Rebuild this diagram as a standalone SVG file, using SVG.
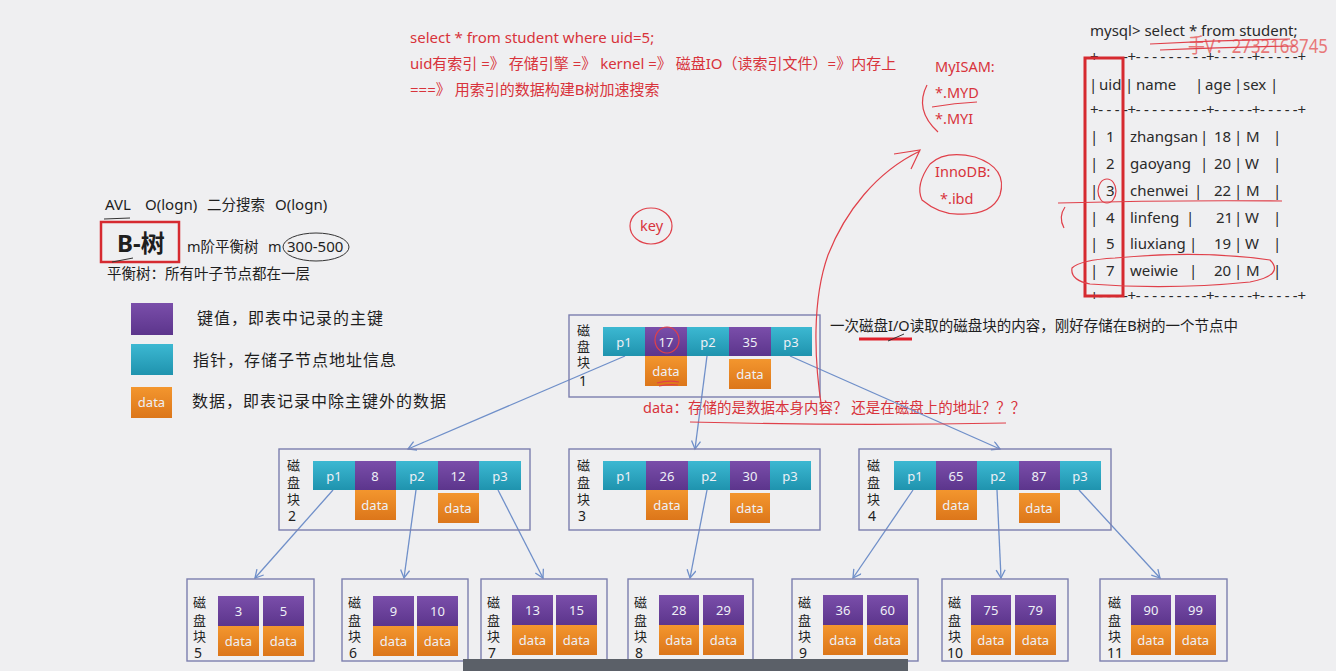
<svg xmlns="http://www.w3.org/2000/svg" width="1336" height="671" viewBox="0 0 1336 671">
<defs>
<linearGradient id="gT" x1="0" y1="0" x2="0" y2="1"><stop offset="0" stop-color="#3cb8d2"/><stop offset="1" stop-color="#1f93ae"/></linearGradient>
<linearGradient id="gP" x1="0" y1="0" x2="0" y2="1"><stop offset="0" stop-color="#7a4eaa"/><stop offset="1" stop-color="#5c358c"/></linearGradient>
<linearGradient id="gO" x1="0" y1="0" x2="0" y2="1"><stop offset="0" stop-color="#f3962e"/><stop offset="1" stop-color="#dc761a"/></linearGradient>
<marker id="arr" markerWidth="12" markerHeight="12" refX="9" refY="5" orient="auto" markerUnits="userSpaceOnUse">
<path d="M1,0.5 L9,5 L1,9.5" fill="none" stroke="#6f8fc9" stroke-width="1.3"/>
</marker>
<style>
text{font-family:"Noto Sans","Noto Sans CJK SC",sans-serif;white-space:pre}
.box{fill:none;stroke:#7c7fae;stroke-width:1.4}
.t{fill:url(#gT)}
.p{fill:url(#gP)}
.o{fill:url(#gO)}
.ct{fill:#eef0f6;font-size:13px;text-anchor:middle}
.lb{fill:#222;font-size:13px}
.blk{fill:#1e1e1e}
.red{fill:#d8333b}
.ink{fill:none;stroke:#e0404a;stroke-width:1.2}
.tb{fill:#2a2a2a;font-size:15px}
.con{stroke:#6f8fc9;stroke-width:1.3;fill:none;marker-end:url(#arr)}
</style>
</defs>
<rect width="1336" height="671" fill="#efeff1"/>

<!-- top red notes -->
<g id="notes" class="red" font-size="15">
<text x="410" y="43">select * from student where uid=5;</text>
<text x="410" y="69">uid有索引 =》 存储引擎 =》 kernel =》 磁盘IO（读索引文件）=》内存上</text>
<text x="410" y="95">===》 用索引的数据构建B树加速搜索</text>
<text x="935" y="72" font-size="14.5">MyISAM:</text>
<text x="935" y="98" font-size="14.5">*.MYD</text>
<text x="935" y="124" font-size="14.5">*.MYI</text>
<text x="935" y="177" font-size="14.5">InnoDB:</text>
<text x="940" y="204" font-size="14.5">*.ibd</text>
<text x="640" y="231" font-size="14.5">key</text>
<text x="643" y="413" font-size="14.5">data：存储的是数据本身内容？ 还是在磁盘上的地址？？？</text>
</g>

<!-- left description -->
<g id="desc" class="blk">
<text x="105" y="210" font-size="15">AVL</text>
<text x="145" y="210" font-size="15">O(logn)</text>
<text x="207" y="210" font-size="14.5">二分搜索</text>
<text x="275" y="210" font-size="15">O(logn)</text>
<text x="117" y="252" font-size="24" font-weight="bold">B-树</text>
<rect x="101" y="222" width="78" height="40" fill="none" stroke="#d62a30" stroke-width="2.5"/>
<text x="187" y="252" font-size="14.5">m阶平衡树</text>
<text x="268" y="252" font-size="14.5">m</text>
<text x="287" y="252" font-size="15">300-500</text>
<text x="107" y="279" font-size="14.5">平衡树：所有叶子节点都在一层</text>
</g>

<!-- legend -->
<g id="legend">
<rect x="131" y="303" width="42" height="32" class="p"/>
<text x="197" y="324" font-size="16" letter-spacing="1" class="blk">键值，即表中记录的主键</text>
<rect x="131" y="344" width="42" height="31" class="t"/>
<text x="193" y="366" font-size="16" letter-spacing="1" class="blk">指针，存储子节点地址信息</text>
<rect x="131" y="387" width="41" height="31" class="o"/>
<text x="151.5" y="407" class="ct">data</text>
<text x="192" y="407" font-size="16" letter-spacing="1" class="blk">数据，即表记录中除主键外的数据</text>
</g>

<text x="830" y="331" font-size="14.5" class="blk">一次磁盘I/O读取的磁盘块的内容，刚好存储在B树的一个节点中</text>

<!-- mysql table -->
<g id="table" class="tb">
<text x="1090" y="36">mysql&gt; select * from student;</text>
<text x="1090" y="62" textLength="216" lengthAdjust="spacing">+- - - -+- - - - - - - - -+- - - - -+- - - - -+</text>
<text x="1089" y="90">|</text><text x="1099" y="90">uid</text><text x="1125" y="90">|</text><text x="1136" y="90">name</text>
<text x="1195" y="90">|</text><text x="1205" y="90">age</text><text x="1234" y="90">|</text><text x="1243" y="90">sex</text><text x="1270" y="90">|</text>
<text x="1090" y="115" textLength="216" lengthAdjust="spacing">+- - - -+- - - - - - - - -+- - - - -+- - - - -+</text>
<g>
<text x="1090" y="142">|</text><text x="1106" y="142">1</text><text x="1130" y="142">zhangsan</text><text x="1200" y="142">|</text><text x="1214" y="142">18</text><text x="1234" y="142">|</text><text x="1246" y="142">M</text><text x="1273" y="142">|</text>
<text x="1090" y="169">|</text><text x="1106" y="169">2</text><text x="1130" y="169">gaoyang</text><text x="1200" y="169">|</text><text x="1214" y="169">20</text><text x="1234" y="169">|</text><text x="1245" y="169">W</text><text x="1273" y="169">|</text>
<text x="1090" y="196">|</text><text x="1106" y="196">3</text><text x="1130" y="196">chenwei</text><text x="1194" y="196">|</text><text x="1214" y="196">22</text><text x="1234" y="196">|</text><text x="1246" y="196">M</text><text x="1273" y="196">|</text>
<text x="1090" y="223">|</text><text x="1106" y="223">4</text><text x="1130" y="223">linfeng</text><text x="1186" y="223">|</text><text x="1216" y="223">21</text><text x="1234" y="223">|</text><text x="1245" y="223">W</text><text x="1273" y="223">|</text>
<text x="1090" y="249">|</text><text x="1106" y="249">5</text><text x="1130" y="249">liuxiang</text><text x="1189" y="249">|</text><text x="1214" y="249">19</text><text x="1234" y="249">|</text><text x="1245" y="249">W</text><text x="1273" y="249">|</text>
<text x="1090" y="276">|</text><text x="1106" y="276">7</text><text x="1130" y="276">weiwie</text><text x="1189" y="276">|</text><text x="1214" y="276">20</text><text x="1234" y="276">|</text><text x="1246" y="276">M</text><text x="1273" y="276">|</text>
</g>
<text x="1090" y="301" textLength="216" lengthAdjust="spacing">+- - - -+- - - - - - - - -+- - - - -+- - - - -+</text>
<rect x="1085" y="58" width="38" height="238" fill="none" stroke="#d62a30" stroke-width="3"/>
<text x="1188" y="53" font-size="20" fill="#e87878" textLength="140" lengthAdjust="spacingAndGlyphs" font-family="Roboto, sans-serif">手V：2732168745</text>
</g>

<!-- connectors -->
<g id="connectors">
<line class="con" x1="625" y1="356" x2="408" y2="449"/>
<line class="con" x1="707" y1="356" x2="695" y2="449"/>
<line class="con" x1="790" y1="356" x2="1000" y2="449"/>
<line class="con" x1="333" y1="490" x2="255" y2="578"/>
<line class="con" x1="416" y1="490" x2="404" y2="578"/>
<line class="con" x1="498" y1="490" x2="543" y2="578"/>
<line class="con" x1="707" y1="490" x2="690" y2="578"/>
<line class="con" x1="913" y1="490" x2="853" y2="578"/>
<line class="con" x1="997" y1="490" x2="1001" y2="578"/>
<line class="con" x1="1079" y1="490" x2="1160" y2="578"/>
</g>

<!-- root node -->
<g id="node-1">
<rect class="box" x="569" y="315" width="251" height="82"/>
<text class="lb"><tspan x="577" y="335">磁</tspan><tspan x="577" y="351">盘</tspan><tspan x="577" y="367">块</tspan><tspan x="579" y="386" font-size="14">1</tspan></text>
<rect class="t" x="603" y="327" width="42" height="29"/><text class="ct" x="624" y="347">p1</text>
<rect class="p" x="645" y="327" width="42" height="29"/><text class="ct" x="666" y="347">17</text>
<rect class="t" x="687" y="327" width="42" height="29"/><text class="ct" x="708" y="347">p2</text>
<rect class="p" x="729" y="327" width="42" height="29"/><text class="ct" x="750" y="347">35</text>
<rect class="t" x="771" y="327" width="41" height="29"/><text class="ct" x="791" y="347">p3</text>
<rect class="o" x="645" y="356" width="42" height="30"/><text class="ct" x="666" y="376">data</text>
<rect class="o" x="729" y="359" width="42" height="30"/><text class="ct" x="750" y="379">data</text>
</g>

<!-- level 2 -->
<g id="node-2">
<rect class="box" x="279" y="449" width="251" height="81"/>
<text class="lb"><tspan x="287" y="470">磁</tspan><tspan x="287" y="487">盘</tspan><tspan x="287" y="504">块</tspan><tspan x="288" y="521" font-size="14">2</tspan></text>
<rect class="t" x="313" y="461" width="42" height="29"/><text class="ct" x="334" y="481">p1</text>
<rect class="p" x="355" y="461" width="41" height="29"/><text class="ct" x="375" y="481">8</text>
<rect class="t" x="396" y="461" width="42" height="29"/><text class="ct" x="417" y="481">p2</text>
<rect class="p" x="438" y="461" width="41" height="29"/><text class="ct" x="458" y="481">12</text>
<rect class="t" x="479" y="461" width="42" height="29"/><text class="ct" x="500" y="481">p3</text>
<rect class="o" x="355" y="490" width="41" height="30"/><text class="ct" x="375" y="510">data</text>
<rect class="o" x="438" y="493" width="41" height="30"/><text class="ct" x="458" y="513">data</text>
</g>
<g id="node-3">
<rect class="box" x="569" y="449" width="251" height="81"/>
<text class="lb"><tspan x="577" y="470">磁</tspan><tspan x="577" y="487">盘</tspan><tspan x="577" y="504">块</tspan><tspan x="578" y="521" font-size="14">3</tspan></text>
<rect class="t" x="603" y="461" width="43" height="29"/><text class="ct" x="624" y="481">p1</text>
<rect class="p" x="646" y="461" width="42" height="29"/><text class="ct" x="667" y="481">26</text>
<rect class="t" x="688" y="461" width="42" height="29"/><text class="ct" x="709" y="481">p2</text>
<rect class="p" x="730" y="461" width="40" height="29"/><text class="ct" x="750" y="481">30</text>
<rect class="t" x="770" y="461" width="41" height="29"/><text class="ct" x="790" y="481">p3</text>
<rect class="o" x="646" y="490" width="42" height="30"/><text class="ct" x="667" y="510">data</text>
<rect class="o" x="730" y="493" width="40" height="30"/><text class="ct" x="750" y="513">data</text>
</g>
<g id="node-4">
<rect class="box" x="859" y="449" width="252" height="81"/>
<text class="lb"><tspan x="867" y="470">磁</tspan><tspan x="867" y="487">盘</tspan><tspan x="867" y="504">块</tspan><tspan x="868" y="521" font-size="14">4</tspan></text>
<rect class="t" x="894" y="461" width="42" height="29"/><text class="ct" x="915" y="481">p1</text>
<rect class="p" x="936" y="461" width="41" height="29"/><text class="ct" x="956" y="481">65</text>
<rect class="t" x="977" y="461" width="42" height="29"/><text class="ct" x="998" y="481">p2</text>
<rect class="p" x="1019" y="461" width="41" height="29"/><text class="ct" x="1039" y="481">87</text>
<rect class="t" x="1060" y="461" width="41" height="29"/><text class="ct" x="1080" y="481">p3</text>
<rect class="o" x="936" y="490" width="41" height="30"/><text class="ct" x="956" y="510">data</text>
<rect class="o" x="1019" y="493" width="41" height="30"/><text class="ct" x="1039" y="513">data</text>
</g>

<!-- leaves -->
<g id="node-5" transform="translate(187,579)">
<rect class="box" width="127" height="82"/>
<text class="lb"><tspan x="6" y="28">磁</tspan><tspan x="6" y="46">盘</tspan><tspan x="6" y="62">块</tspan><tspan x="7" y="79" font-size="14">5</tspan></text>
<rect class="p" x="31" y="17" width="41" height="30"/><text class="ct" x="51.5" y="37">3</text>
<rect class="p" x="76" y="17" width="41" height="30"/><text class="ct" x="96.5" y="37">5</text>
<rect class="o" x="31" y="47" width="41" height="30"/><text class="ct" x="51.5" y="67">data</text>
<rect class="o" x="76" y="47" width="41" height="30"/><text class="ct" x="96.5" y="67">data</text>
</g>
<g id="node-6" transform="translate(342,579)">
<rect class="box" width="126" height="82"/>
<text class="lb"><tspan x="6" y="28">磁</tspan><tspan x="6" y="46">盘</tspan><tspan x="6" y="62">块</tspan><tspan x="7" y="79" font-size="14">6</tspan></text>
<rect class="p" x="31" y="17" width="41" height="30"/><text class="ct" x="51.5" y="37">9</text>
<rect class="p" x="75" y="17" width="41" height="30"/><text class="ct" x="95.5" y="37">10</text>
<rect class="o" x="31" y="47" width="41" height="30"/><text class="ct" x="51.5" y="67">data</text>
<rect class="o" x="75" y="47" width="41" height="30"/><text class="ct" x="95.5" y="67">data</text>
</g>
<g id="node-7" transform="translate(481,579)">
<rect class="box" width="126" height="81"/>
<text class="lb"><tspan x="6" y="28">磁</tspan><tspan x="6" y="46">盘</tspan><tspan x="6" y="62">块</tspan><tspan x="7" y="79" font-size="14">7</tspan></text>
<rect class="p" x="31" y="16" width="41" height="30"/><text class="ct" x="51.5" y="36">13</text>
<rect class="p" x="75" y="16" width="41" height="30"/><text class="ct" x="95.5" y="36">15</text>
<rect class="o" x="31" y="46" width="41" height="30"/><text class="ct" x="51.5" y="66">data</text>
<rect class="o" x="75" y="46" width="41" height="30"/><text class="ct" x="95.5" y="66">data</text>
</g>
<g id="node-8" transform="translate(628,579)">
<rect class="box" width="125" height="82"/>
<text class="lb"><tspan x="6" y="28">磁</tspan><tspan x="6" y="46">盘</tspan><tspan x="6" y="62">块</tspan><tspan x="7" y="79" font-size="14">8</tspan></text>
<rect class="p" x="31" y="16" width="40" height="30"/><text class="ct" x="51" y="36">28</text>
<rect class="p" x="75" y="16" width="41" height="30"/><text class="ct" x="95.5" y="36">29</text>
<rect class="o" x="31" y="46" width="40" height="30"/><text class="ct" x="51" y="66">data</text>
<rect class="o" x="75" y="46" width="41" height="30"/><text class="ct" x="95.5" y="66">data</text>
</g>
<g id="node-9" transform="translate(792,579)">
<rect class="box" width="126" height="82"/>
<text class="lb"><tspan x="6" y="28">磁</tspan><tspan x="6" y="46">盘</tspan><tspan x="6" y="62">块</tspan><tspan x="7" y="79" font-size="14">9</tspan></text>
<rect class="p" x="31" y="16" width="40" height="30"/><text class="ct" x="51" y="36">36</text>
<rect class="p" x="75" y="16" width="41" height="30"/><text class="ct" x="95.5" y="36">60</text>
<rect class="o" x="31" y="46" width="40" height="30"/><text class="ct" x="51" y="66">data</text>
<rect class="o" x="75" y="46" width="41" height="30"/><text class="ct" x="95.5" y="66">data</text>
</g>
<g id="node-10" transform="translate(942,579)">
<rect class="box" width="126" height="82"/>
<text class="lb"><tspan x="6" y="28">磁</tspan><tspan x="6" y="46">盘</tspan><tspan x="6" y="62">块</tspan><tspan x="5" y="79" font-size="14">10</tspan></text>
<rect class="p" x="29" y="16" width="40" height="30"/><text class="ct" x="49" y="36">75</text>
<rect class="p" x="73" y="16" width="41" height="30"/><text class="ct" x="93.5" y="36">79</text>
<rect class="o" x="29" y="46" width="40" height="30"/><text class="ct" x="49" y="66">data</text>
<rect class="o" x="73" y="46" width="41" height="30"/><text class="ct" x="93.5" y="66">data</text>
</g>
<g id="node-11" transform="translate(1100,579)">
<rect class="box" width="127" height="82"/>
<text class="lb"><tspan x="8" y="28">磁</tspan><tspan x="8" y="46">盘</tspan><tspan x="8" y="62">块</tspan><tspan x="7" y="79" font-size="14">11</tspan></text>
<rect class="p" x="31" y="16" width="40" height="30"/><text class="ct" x="51" y="36">90</text>
<rect class="p" x="75" y="16" width="41" height="30"/><text class="ct" x="95.5" y="36">99</text>
<rect class="o" x="31" y="46" width="40" height="30"/><text class="ct" x="51" y="66">data</text>
<rect class="o" x="75" y="46" width="41" height="30"/><text class="ct" x="95.5" y="66">data</text>
</g>

<!-- hand-drawn ink -->
<g id="ink">
<ellipse class="ink" cx="651" cy="226" rx="21" ry="18"/>
<ellipse class="ink" cx="667" cy="340" rx="12" ry="13"/>
<path class="ink" d="M657 383 Q668 380 679 382 M659 386 Q670 384 678 385"/>
<path class="ink" d="M927 85 Q914 110 938 132"/>
<path class="ink" d="M932 107 Q955 103 977 102"/>
<path class="ink" d="M930 164 Q945 150 975 157 Q1008 168 1000 195 Q992 215 960 214 Q940 215 922 200 Q915 185 930 164"/>
<path class="ink" d="M822 410 C814 360 812 300 828 255 C845 212 876 172 920 151 M894 154 L920 150 L911 169"/>
<path class="ink" d="M690 422 Q850 426 1006 423"/>
<line x1="859" y1="339" x2="912" y2="339" stroke="#e0202a" stroke-width="3"/>
<path d="M888 341 L904 334" stroke="#333" stroke-width="1" fill="none"/>
<ellipse class="ink" cx="1107" cy="191" rx="9" ry="12"/>
<path class="ink" d="M1058 203 Q1170 200 1282 201"/>
<path class="ink" d="M1065 207 Q1058 217 1064 228"/>
<path class="ink" d="M1115 258 Q1200 250 1270 260 Q1285 275 1250 282 Q1170 290 1090 284 Q1070 280 1072 268 Q1080 260 1115 258"/>
<path class="ink" d="M1150 44 Q1220 40 1290 39 M1160 50 Q1230 47 1295 46"/>
<ellipse cx="316" cy="247" rx="33" ry="14" fill="none" stroke="#333" stroke-width="1"/>
<path d="M104 219 L130 218 M112 262 L133 258" stroke="#333" stroke-width="1" fill="none"/>
</g>

<rect x="463" y="659" width="445" height="12" fill="#5b6068"/>
</svg>
